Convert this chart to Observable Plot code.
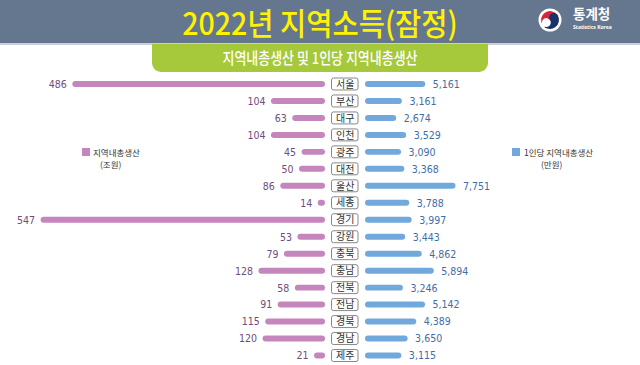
<!DOCTYPE html>
<html><head><meta charset="utf-8">
<script src="https://cdn.jsdelivr.net/npm/d3@7"></script>
<script src="https://cdn.jsdelivr.net/npm/@observablehq/plot@0.6"></script>
<style>
html,body{margin:0;padding:0;background:#fff;}
#chart{position:relative;width:640px;height:365px;overflow:hidden;font-family:"Noto Sans CJK KR",sans-serif;}
#header{position:absolute;left:0;top:0;width:640px;height:43px;background:#64778f;border-bottom:2px solid #c9d0d9;}
#title{position:absolute;left:0;top:0;width:640px;height:43px;line-height:43px;text-align:center;color:#fff200;font-size:31px;font-weight:500;transform:scaleX(0.92);transform-origin:320px 50%;white-space:nowrap;}
#sub{position:absolute;left:152px;top:44px;width:336px;height:28px;background:#a6c83b;border-radius:0 0 9px 9px;}
#subtext{position:absolute;left:0;top:0;width:336px;line-height:27px;text-align:center;color:#fff;font-size:16px;font-weight:500;transform:scaleX(0.81);white-space:nowrap;}
.layer{position:absolute;left:0;top:0;}
.sw{position:absolute;width:8px;height:8px;}
.lt{position:absolute;font-size:8.5px;line-height:10px;color:#333;white-space:nowrap;}
#logo{position:absolute;left:520px;top:0;}
</style>
</head><body>
<div id="chart">
  <div id="header"><div id="title">2022년 지역소득(잠정)</div></div>
  <svg id="logo" width="120" height="43">
    <g transform="translate(30,20)">
      <circle r="11.5" fill="#fff"/>
      <g transform="rotate(-35)">
        <path d="M -9 0 A 9 9 0 0 1 9 0 A 4.5 4.5 0 0 1 0 0 A 4.5 4.5 0 0 0 -9 0 Z" fill="#d7263d"/>
        <path d="M -9 0 A 4.5 4.5 0 0 0 0 0 A 4.5 4.5 0 0 1 9 0 A 9 9 0 0 1 -9 0 Z" fill="#16336b"/>
      </g>
    </g>
    <text x="53" y="19" fill="#fff" font-size="13.5" font-weight="700" font-family="Noto Sans CJK KR">통계청</text>
    <text x="53" y="29" fill="#fff" font-size="5" font-weight="700" font-family="Noto Sans, sans-serif">Statistics Korea</text>
  </svg>
  <div id="sub"><div id="subtext">지역내총생산 및 1인당 지역내총생산</div></div>
  <div class="sw" style="left:82px;top:148px;background:#c585bd"></div>
  <div class="lt" style="left:93px;top:147px">지역내총생산</div>
  <div class="lt" style="left:100px;top:159px">(조원)</div>
  <div class="sw" style="left:512px;top:148px;background:#72a9dc"></div>
  <div class="lt" style="left:524px;top:147px">1인당 지역내총생산</div>
  <div class="lt" style="left:541px;top:159px">(만원)</div>
  <div id="plots"></div>
</div>
<script>
const regions = ["서울","부산","대구","인천","광주","대전","울산","세종","경기","강원","충북","충남","전북","전남","경북","경남","제주"];
const grdp = [486,104,63,104,45,50,86,14,547,53,79,128,58,91,115,120,21];
const perCapita = [5161,3161,2674,3529,3090,3368,7751,3788,3997,3443,4862,5894,3246,5142,4389,3650,3115];

const rows = regions.map((r, i) => ({region: r, grdp: grdp[i], pc: perCapita[i]}));

const PINK = "#c585bd", BLUE = "#72a9dc";
const numFont = "'DejaVu Sans Condensed', 'DejaVu Sans', sans-serif";
const common = {
  width: 640, height: 365, marginTop: 75.5, marginBottom: 1,
  y: {domain: regions, padding: 0, round: false, axis: null},
  style: {background: "transparent", overflow: "visible"}
};

const left = Plot.plot({
  ...common,
  marginLeft: 40.6, marginRight: 315,
  x: {domain: [0, d3.max(grdp)], reverse: true, axis: null},
  marks: [
    Plot.barX(rows, {y: "region", x1: 0, x2: "grdp", fill: PINK, rx: 3, insetTop: 5.5, insetBottom: 5.5}),
    Plot.text(rows, {y: "region", x: "grdp", text: d => d3.format(",")(d.grdp), textAnchor: "end", dx: -6,
      fill: "#6e4d7e", fontSize: 10.5, fontFamily: numFont})
  ]
});

const center = Plot.plot({
  ...common,
  marginLeft: 331.5, marginRight: 282,
  x: {type: "band", domain: ["name"], padding: 0, round: false, axis: null},
  marks: [
    Plot.cell(rows, {x: d => "name", y: "region", fill: "#fff", stroke: "#7a7a7a", strokeWidth: 0.9, rx: 2, insetTop: 2.5, insetBottom: 2.5}),
    Plot.text(rows, {x: d => "name", y: "region", text: "region", fill: "#333", fontSize: 10, fontFamily: "Noto Sans CJK KR"})
  ]
});

const right = Plot.plot({
  ...common,
  marginLeft: 365, marginRight: 184.5,
  x: {domain: [0, d3.max(perCapita)], axis: null},
  marks: [
    Plot.barX(rows, {y: "region", x1: 0, x2: "pc", fill: BLUE, rx: 3, insetTop: 5.5, insetBottom: 5.5}),
    Plot.text(rows, {y: "region", x: "pc", text: d => d3.format(",")(d.pc), textAnchor: "start", dx: 7,
      fill: "#3f6ea6", fontSize: 10.5, fontFamily: numFont})
  ]
});

for (const p of [left, center, right]) {
  p.classList.add("layer");
  document.getElementById("plots").appendChild(p);
}
</script>
</body></html>
